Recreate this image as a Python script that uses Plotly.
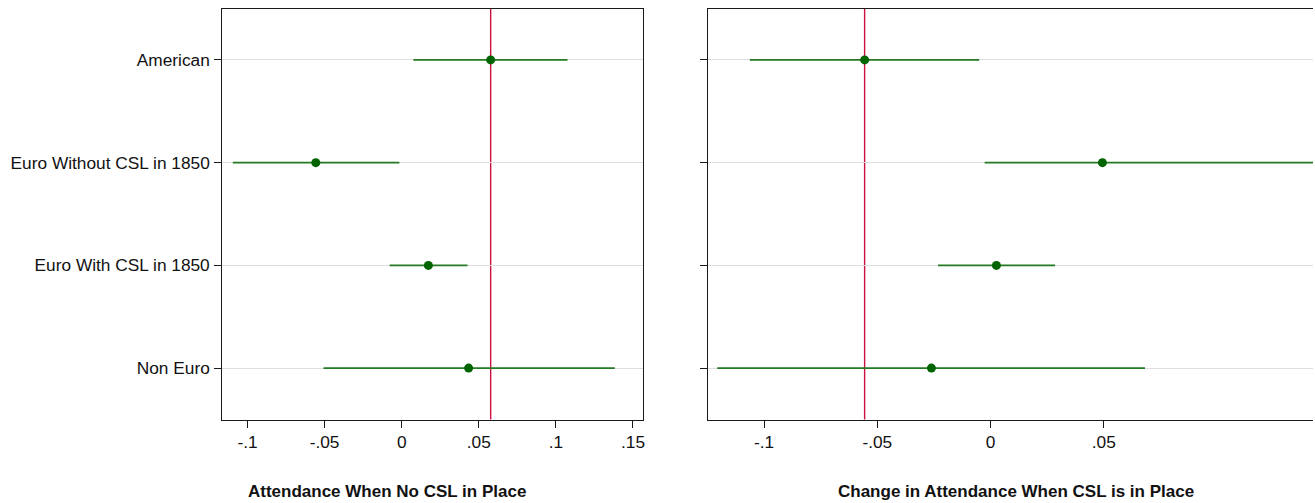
import plotly.graph_objects as go

W, H = 1315, 503

# ---- data ----
categories = ["American", "Euro Without CSL in 1850", "Euro With CSL in 1850", "Non Euro"]
cat_pos = [4, 3, 2, 1]

left_est = [0.0577, -0.0557, 0.0173, 0.0434]
left_lo = [0.0076, -0.1095, -0.0078, -0.0507]
left_hi = [0.1075, -0.0015, 0.0427, 0.1382]
left_ref = 0.0577

right_est = [-0.0556, 0.0494, 0.0026, -0.0261]
right_lo = [-0.1063, -0.0026, -0.0232, -0.1207]
right_hi = [-0.0050, 0.1500, 0.0285, 0.0682]
right_ref = -0.0556

left_ticks = [-0.1, -0.05, 0, 0.05, 0.1, 0.15]
left_ticktext = ["-.1", "-.05", "0", ".05", ".1", ".15"]
right_ticks = [-0.1, -0.05, 0, 0.05]
right_ticktext = ["-.1", "-.05", "0", ".05"]

left_title = "Attendance When No CSL in Place"
right_title = "Change in Attendance When CSL is in Place"

# ---- style ----
FONT = "Liberation Sans, Arial, Helvetica, sans-serif"
MARK = "#006400"
CI = "#237a23"
REF = "#cc1040"
GRID = "#dedede"

def px(v, total):
    return v / total

fig = go.Figure()

def add_panel(est, lo, hi, xa, ya):
    xs, ys = [], []
    for l, h, p in zip(lo, hi, cat_pos):
        xs += [l, h, None]
        ys += [p, p, None]
    fig.add_trace(go.Scatter(x=xs, y=ys, mode="lines", line=dict(color=CI, width=1.6),
                             xaxis=xa, yaxis=ya, showlegend=False, hoverinfo="skip"))
    fig.add_trace(go.Scatter(x=est, y=cat_pos, mode="markers",
                             marker=dict(color=MARK, size=9, line=dict(width=0)),
                             xaxis=xa, yaxis=ya, showlegend=False))

add_panel(left_est, left_lo, left_hi, "x", "y")
add_panel(right_est, right_lo, right_hi, "x2", "y2")

fig.add_shape(type="line", xref="x", yref="y domain", x0=left_ref, x1=left_ref, y0=0, y1=1,
              line=dict(color=REF, width=1.4), layer="below")
fig.add_shape(type="line", xref="x2", yref="y2 domain", x0=right_ref, x1=right_ref, y0=0, y1=1,
              line=dict(color=REF, width=1.4), layer="below")

ydom = [px(503 - 419.5, H), px(503 - 8.5, H)]

axis_common = dict(showgrid=False, zeroline=False, showline=True, linecolor="#1a1a1a", linewidth=1.3,
                   ticks="outside", ticklen=7, tickcolor="#1a1a1a", tickwidth=1.2,
                   tickfont=dict(family=FONT, size=17.3, color="#111111"))

fig.update_layout(
    width=W, height=H,
    margin=dict(l=0, r=0, t=0, b=0),
    paper_bgcolor="white", plot_bgcolor="white",
    font=dict(family=FONT, size=17, color="#111111"),
    xaxis=dict(domain=[px(222.7, W), px(644.3, W)], range=[-0.1163, 0.1567],
               tickvals=left_ticks, ticktext=left_ticktext, mirror=True, anchor="y", **axis_common),
    yaxis=dict(domain=ydom, range=[0.5, 4.5], tickvals=cat_pos, ticktext=categories,
               mirror=True, anchor="x", ticklabelstandoff=1,
               **{**axis_common, "showgrid": True, "gridcolor": GRID, "gridwidth": 1.4}),
    xaxis2=dict(domain=[px(709, W), 1.0], range=[-0.1248, 0.1424],
                tickvals=right_ticks, ticktext=right_ticktext, mirror=True, anchor="y2", **axis_common),
    yaxis2=dict(domain=ydom, range=[0.5, 4.5], tickvals=cat_pos, showticklabels=False,
                mirror=False, anchor="x2",
                **{**axis_common, "showgrid": True, "gridcolor": GRID, "gridwidth": 1.4}),
)

fig.add_annotation(text="<b>" + left_title + "</b>", xref="paper", yref="paper",
                   x=px(388, W), y=px(503 - 491, H), showarrow=False, xanchor="center", yanchor="middle",
                   font=dict(family=FONT, size=17, color="#111111"))
fig.add_annotation(text="<b>" + right_title + "</b>", xref="paper", yref="paper",
                   x=px(1018, W), y=px(503 - 491, H), showarrow=False, xanchor="center", yanchor="middle",
                   font=dict(family=FONT, size=17, color="#111111"))

fig.write_html("out.html")
